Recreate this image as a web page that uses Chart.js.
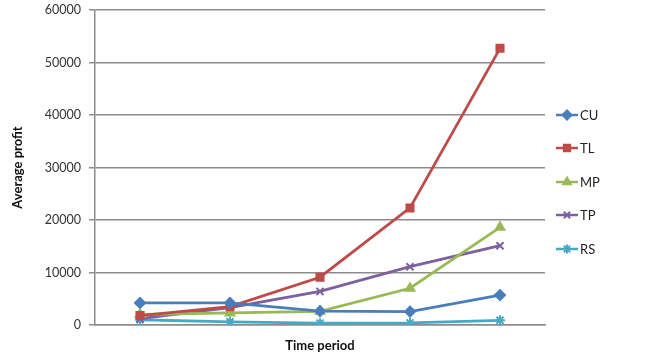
<!DOCTYPE html>
<html lang="en">
<head>
<meta charset="UTF-8">
<title>Average profit</title>
<script src="https://cdn.jsdelivr.net/npm/chart.js"></script>
<style>
  html, body { margin: 0; padding: 0; background: #fff; }
  .wrap { width: 652px; height: 354px; position: relative; }
</style>
</head>
<body>
<div class="wrap"><canvas id="grafico" width="652" height="354"></canvas></div>
<script>
// data
const periodos = ['1', '2', '3', '4', '5'];
const serieCU = [4200, 4200, 2650, 2550, 5700];
const serieTL = [1800, 3500, 9100, 22300, 52700];
const serieMP = [2000, 2300, 2600, 7000, 18600];
const serieTP = [1200, 3300, 6400, 11100, 15100];
const serieRS = [1000, 600, 350, 400, 900];
const ticksY = [0, 10000, 20000, 30000, 40000, 50000, 60000];

const fonte = 'Lato, "Open Sans", sans-serif';

function serie(nome, dados, cor, estilo, raio) {
  return {
    label: nome,
    data: dados,
    borderColor: cor,
    backgroundColor: cor,
    borderWidth: 2.8,
    pointStyle: estilo,
    pointRadius: raio,
    pointBorderWidth: 2,
    pointBorderColor: cor,
    pointBackgroundColor: cor,
    tension: 0
  };
}

// legend on the right: short line with the marker in the middle
const legendaDireita = {
  id: 'legendaDireita',
  afterDraw(chart) {
    const ctx = chart.ctx;
    const ys = [115, 148, 182, 215, 249];
    chart.data.datasets.forEach(function (ds, i) {
      const y = ys[i];
      ctx.save();
      ctx.strokeStyle = ds.borderColor;
      ctx.lineWidth = 2.5;
      ctx.beginPath();
      ctx.moveTo(556, y);
      ctx.lineTo(578, y);
      ctx.stroke();
      ctx.fillStyle = ds.borderColor;
      ctx.lineWidth = 2;
      Chart.helpers.drawPoint(ctx, { pointStyle: ds.pointStyle, radius: ds.pointRadius - 0.5, rotation: 0, borderWidth: 2 }, 567, y);
      ctx.fillStyle = '#222';
      ctx.font = '13px ' + fonte;
      ctx.textBaseline = 'middle';
      ctx.fillText(ds.label, 580, y + 1);
      ctx.restore();
    });
  }
};

const grafico = new Chart(document.getElementById('grafico'), {
  type: 'line',
  data: {
    labels: periodos,
    datasets: [
      serie('CU', serieCU, '#4A7EBB', 'rectRot', 5),
      serie('TL', serieTL, '#BE4B48', 'rect', 5),
      serie('MP', serieMP, '#98B954', 'triangle', 5),
      serie('TP', serieTP, '#7D60A0', 'crossRot', 5),
      serie('RS', serieRS, '#46AAC5', 'star', 5)
    ]
  },
  options: {
    responsive: false,
    animation: false,
    layout: { padding: { left: 0, right: 107, top: 10, bottom: 0 } },
    plugins: { legend: { display: false }, tooltip: { enabled: false } },
    scales: {
      x: {
        offset: true,
        afterFit(scale) { scale.height = 29; },
        grid: { display: false, drawTicks: false },
        border: { color: '#8c8c8c', width: 1.5 },
        ticks: { display: false },
        title: {
          display: true,
          text: 'Time period',
          color: '#111',
          font: { family: fonte, size: 13, weight: 'bold' },
          padding: { top: 0, bottom: 0 }
        }
      },
      y: {
        min: 0,
        max: 60000,
        afterFit(scale) {
          scale.width = 95;
          scale.paddingTop = 0;
          scale.paddingBottom = 0;
        },
        afterBuildTicks(scale) { scale.ticks = ticksY.map(v => ({ value: v })); },
        grid: { color: '#8c8c8c', lineWidth: 1.5, tickLength: 6 },
        border: { color: '#8c8c8c', width: 1.5 },
        ticks: {
          color: '#333',
          padding: 8,
          font: { family: fonte, size: 12.5 },
          callback: v => String(v)
        },
        title: {
          display: true,
          text: 'Average profit',
          color: '#111',
          font: { family: fonte, size: 13, weight: 'bold' },
          padding: { top: 10, bottom: 4 }
        }
      }
    }
  },
  plugins: [legendaDireita]
});
</script>
</body>
</html>
